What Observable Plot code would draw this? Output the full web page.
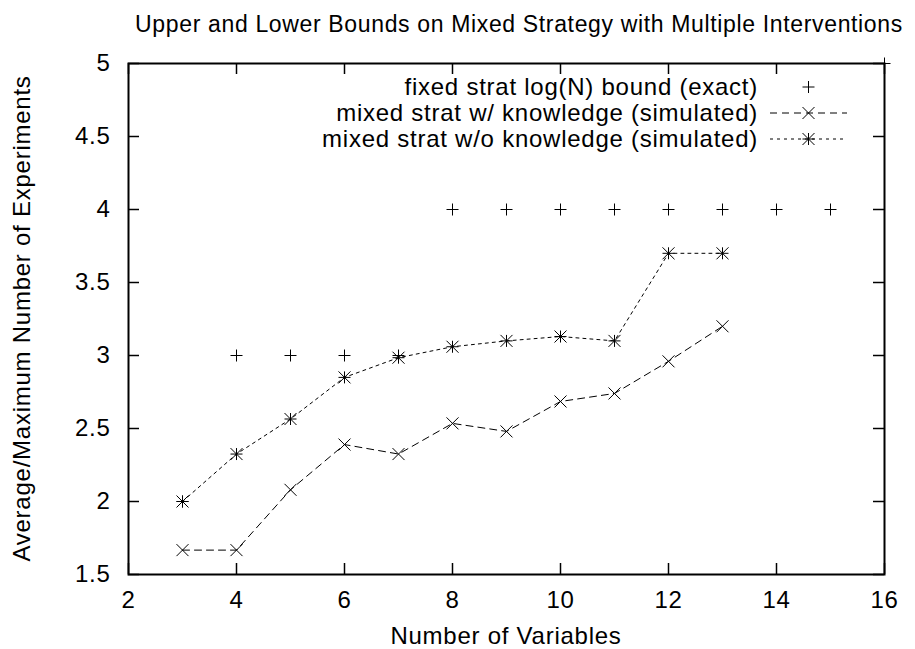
<!DOCTYPE html>
<html>
<head>
<meta charset="utf-8">
<script src="https://cdn.jsdelivr.net/npm/d3@7"></script>
<script src="https://cdn.jsdelivr.net/npm/@observablehq/plot@0.6"></script>
<style>
  html, body { margin: 0; padding: 0; background: #fff; }
  #chart { width: 915px; height: 649px; }
  svg text { font-family: "Liberation Sans", Arial, Helvetica, sans-serif; letter-spacing: 0.75px; }
</style>
</head>
<body>
<div id="chart"></div>
<script>
// ---- data ----
const titleText = "Upper and Lower Bounds on Mixed Strategy with Multiple Interventions";
const xLabel = "Number of Variables";
const yLabel = "Average/Maximum Number of Experiments";
const seriesNames = [
  "fixed strat log(N) bound (exact)",
  "mixed strat w/ knowledge (simulated)",
  "mixed strat w/o knowledge (simulated)"
];
const xTicks = [2, 4, 6, 8, 10, 12, 14, 16];
const yTicks = [1.5, 2, 2.5, 3, 3.5, 4, 4.5, 5];

const fixedN = [3, 4, 5, 6, 7, 8, 9, 10, 11, 12, 13, 14, 15, 16];
const fixedBound = [2, 3, 3, 3, 3, 4, 4, 4, 4, 4, 4, 4, 4, 5];

const simN = [3, 4, 5, 6, 7, 8, 9, 10, 11, 12, 13];
const withKnowledge = [1.667, 1.667, 2.08, 2.39, 2.325, 2.535, 2.48, 2.685, 2.74, 2.96, 3.2];
const withoutKnowledge = [2.0, 2.325, 2.565, 2.85, 2.985, 3.06, 3.1, 3.13, 3.1, 3.7, 3.7];

// ---- tables ----
const fixedData = fixedN.map((n, i) => ({n, v: fixedBound[i]}));
const withData = simN.map((n, i) => ({n, v: withKnowledge[i]}));
const withoutData = simN.map((n, i) => ({n, v: withoutKnowledge[i]}));

// ---- layout ----
const W = 915, H = 649;
const mL = 128, mR = 31, mT = 63, mB = 75;
const fW = W - mL - mR, fH = H - mT - mB;
const tickLen = 11;
const FONT = 24;

// custom stroke symbols (gnuplot-like)
const mkSym = (fn) => ({draw(ctx, size) { const r = Math.sqrt(size / Math.PI); fn(ctx, r); }});
const plusSym = mkSym((c, r) => { c.moveTo(-r, 0); c.lineTo(r, 0); c.moveTo(0, -r); c.lineTo(0, r); });
const timesSym = mkSym((c, r) => { c.moveTo(-r, -r); c.lineTo(r, r); c.moveTo(-r, r); c.lineTo(r, -r); });
const starSym = mkSym((c, r) => {
  c.moveTo(-r, 0); c.lineTo(r, 0); c.moveTo(0, -r); c.lineTo(0, r);
  c.moveTo(-r, -r); c.lineTo(r, r); c.moveTo(-r, r); c.lineTo(r, -r);
});
const symbols = [plusSym, timesSym, starSym];
const dashes = [null, "7,5", "3,4"];
const markR = 6;

const plot = Plot.plot({
  width: W, height: H,
  marginLeft: mL, marginRight: mR, marginTop: mT, marginBottom: mB,
  style: {fontFamily: '"Liberation Sans", Arial, sans-serif', fontSize: FONT + "px", background: "#fff", color: "#000", overflow: "visible"},
  x: {domain: [2, 16]},
  y: {domain: [1.5, 5]},
  marks: [
    // inward ticks (gnuplot mirror style)
    Plot.tickX(xTicks, {x: d => d, insetTop: fH - tickLen, stroke: "#000", strokeWidth: 1.5}),
    Plot.tickX(xTicks, {x: d => d, insetBottom: fH - tickLen, stroke: "#000", strokeWidth: 1.5}),
    Plot.tickY(yTicks, {y: d => d, insetRight: fW - tickLen, stroke: "#000", strokeWidth: 1.5}),
    Plot.tickY(yTicks, {y: d => d, insetLeft: fW - tickLen, stroke: "#000", strokeWidth: 1.5}),
    Plot.frame({stroke: "#000", strokeWidth: 2}),
    Plot.axisX({ticks: xTicks, tickSize: 0, tickPadding: 16, label: null, tickFormat: d => String(d), fontSize: FONT}),
    Plot.axisY({ticks: yTicks, tickSize: 0, tickPadding: 18, label: null, tickFormat: d => String(d), fontSize: FONT}),
    // lines
    Plot.line(withData, {x: "n", y: "v", stroke: "#000", strokeWidth: 1, strokeDasharray: dashes[1]}),
    Plot.line(withoutData, {x: "n", y: "v", stroke: "#000", strokeWidth: 1, strokeDasharray: dashes[2]}),
    // points
    Plot.dot(fixedData, {x: "n", y: "v", symbol: plusSym, r: markR, fill: "none", stroke: "#000", strokeWidth: 1}),
    Plot.dot(withData, {x: "n", y: "v", symbol: timesSym, r: markR, fill: "none", stroke: "#000", strokeWidth: 1}),
    Plot.dot(withoutData, {x: "n", y: "v", symbol: starSym, r: markR, fill: "none", stroke: "#000", strokeWidth: 1})
  ]
});

document.getElementById("chart").appendChild(plot);

// ---- titles, labels, legend (real SVG text) ----
const svg = d3.select(plot);
svg.append("text")
  .attr("x", 519).attr("y", 32)
  .attr("text-anchor", "middle")
  .attr("font-size", 23)
  .style("letter-spacing", "0.65px")
  .attr("fill", "#000")
  .text(titleText);

svg.append("text")
  .attr("x", mL + fW / 2).attr("y", 644)
  .attr("text-anchor", "middle")
  .attr("font-size", FONT)
  .attr("fill", "#000")
  .text(xLabel);

svg.append("text")
  .attr("transform", `translate(30,${mT + fH / 2}) rotate(-90)`)
  .attr("text-anchor", "middle")
  .attr("font-size", FONT)
  .attr("fill", "#000")
  .text(yLabel);

const legend = svg.append("g");
const legTextRight = 758, legSampleX1 = 770, legSampleX2 = 847, legBase0 = 95, legStep = 26;
seriesNames.forEach((name, i) => {
  const base = legBase0 + i * legStep;
  const cy = base - 8;
  legend.append("text")
    .attr("x", legTextRight).attr("y", base)
    .attr("text-anchor", "end")
    .attr("font-size", FONT)
    .attr("fill", "#000")
    .text(name);
  if (dashes[i]) {
    legend.append("line")
      .attr("x1", legSampleX1).attr("x2", legSampleX2)
      .attr("y1", cy).attr("y2", cy)
      .attr("stroke", "#000").attr("stroke-width", 1)
      .attr("stroke-dasharray", dashes[i]);
  }
  legend.append("path")
    .attr("transform", `translate(${(legSampleX1 + legSampleX2) / 2},${cy})`)
    .attr("d", d3.symbol(symbols[i], markR * markR * Math.PI)())
    .attr("fill", "none").attr("stroke", "#000").attr("stroke-width", 1);
});
</script>
</body>
</html>
